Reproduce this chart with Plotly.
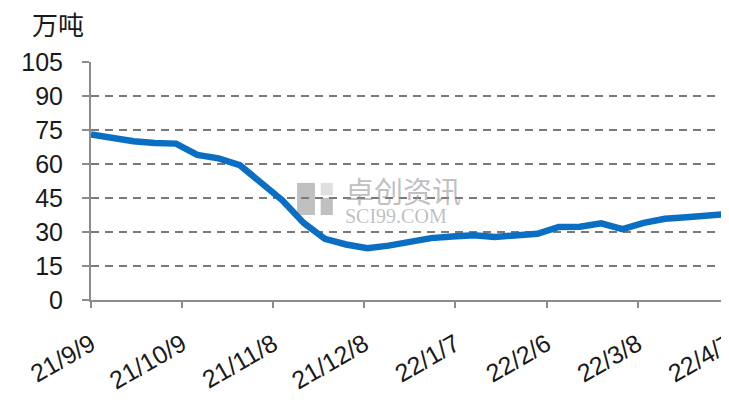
import plotly.graph_objects as go
import pandas as pd

start_date = "2021-09-09"
values = [73, 71.5, 70, 69.3, 69, 64, 62.5, 59.5, 52, 44, 34, 27, 24.5, 22.8, 24, 26,
          27.3, 28, 28.6, 27.8, 28.3, 29.2, 32.2, 32.3, 33.8, 31.3, 34, 35.8, 36.5, 37.2, 38]
dates = pd.date_range(start_date, periods=len(values), freq="7D")

tick_dates = pd.date_range(start_date, periods=8, freq="30D")
tick_labels = ["21/9/9", "21/10/9", "21/11/8", "21/12/8", "22/1/7", "22/2/6", "22/3/8", "22/4/7"]
y_ticks = [0, 15, 30, 45, 60, 75, 90, 105]
unit_label = "万吨"

fig = go.Figure()
fig.add_trace(go.Scatter(x=dates, y=values, mode="lines",
                         line=dict(color="#0a6fc2", width=6.5), hoverinfo="skip"))

font_family = "Liberation Sans, Arial, sans-serif"
# page body has an 8px default margin, so the figure is sized 8px smaller
fig.update_layout(
    width=721, height=395,
    margin=dict(l=83, r=0, t=54, b=103, autoexpand=False),
    paper_bgcolor="white", plot_bgcolor="white",
    showlegend=False,
    font=dict(family=font_family, color="#1a1a1a"),
    xaxis=dict(
        range=[tick_dates[0], tick_dates[-1] + pd.Timedelta(hours=2)],
        tickmode="array", tickvals=tick_dates, ticktext=tick_labels,
        tickangle=-30, tickfont=dict(size=25, color="#1a1a1a"),
        automargin=False, ticklabeloverflow="allow", ticklabelstandoff=12,
        showgrid=False, showline=True, linecolor="#8c8c8c", linewidth=2,
        ticks="outside", ticklen=6, tickcolor="#8c8c8c", tickwidth=2,
        zeroline=False,
    ),
    yaxis=dict(
        range=[0, 105], tickmode="array", tickvals=y_ticks,
        tickfont=dict(size=25, color="#1a1a1a"),
        automargin=False, ticklabelstandoff=14,
        showgrid=True, gridcolor="#7a7a7a", gridwidth=2, griddash="8px,6px",
        showline=True, linecolor="#8c8c8c", linewidth=2,
        ticks="outside", ticklen=7, tickcolor="#8c8c8c", tickwidth=2,
        zeroline=False,
    ),
)

fig.add_annotation(text=unit_label, xref="paper", yref="paper", x=-0.052, y=1.162,
                   xanchor="center", yanchor="middle", showarrow=False,
                   font=dict(size=26, color="#1a1a1a", family="Noto Sans CJK SC"))

# watermark
wm = "rgba(150,150,150,0.6)"
wm_light = "rgba(150,150,150,0.3)"
for (x0, y0, x1, y1, c) in [(0.323, 0.357, 0.351, 0.492, wm), (0.360, 0.357, 0.379, 0.429, wm),
                            (0.360, 0.44, 0.379, 0.492, wm_light)]:
    fig.add_shape(type="rect", xref="paper", yref="paper", x0=x0, y0=y0, x1=x1, y1=y1,
                  fillcolor=c, line=dict(width=0), layer="below")
fig.add_annotation(text="<span style='font-size:29px;font-family:Noto Sans CJK SC'>卓创资讯</span><br>"
                        "<span style='font-size:20px'>SCI99.COM</span>",
                   xref="paper", yref="paper", x=0.395, y=0.43, align="left",
                   xanchor="left", yanchor="middle", showarrow=False,
                   font=dict(size=15, color=wm, family="Liberation Serif"))

fig.write_html("out.html")
